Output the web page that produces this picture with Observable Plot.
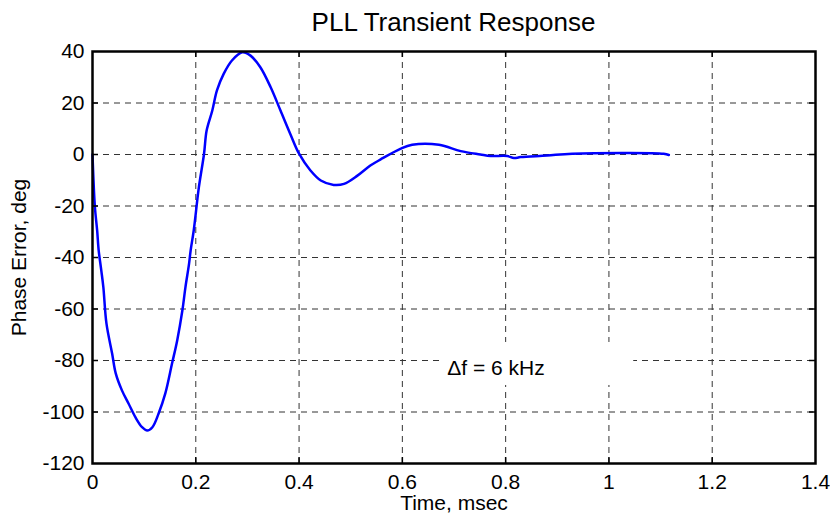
<!DOCTYPE html>
<html>
<head>
<meta charset="utf-8">
<script src="https://cdn.jsdelivr.net/npm/d3@7"></script>
<script src="https://cdn.jsdelivr.net/npm/@observablehq/plot@0.6"></script>
<style>
  html, body { margin: 0; padding: 0; background: #fff; }
  #wrap { width: 830px; height: 518px; background: #fff; font-family: "Liberation Sans", Arial, sans-serif; }
  #title { height: 40px; width: 830px; box-sizing: border-box; padding-left: 92px; padding-right: 15px; text-align: center; font-size: 26px; line-height: 44px; color: #000; white-space: nowrap; }
</style>
</head>
<body>
<div id="wrap">
  <div id="title">PLL Transient Response</div>
  <div id="chart"></div>
</div>
<script>
// Time (msec) and phase error (deg)
const timeMs = [0, 0.0045, 0.009, 0.012, 0.017, 0.021, 0.027, 0.038, 0.045, 0.057, 0.07, 0.083, 0.096, 0.106, 0.116, 0.128, 0.141, 0.154, 0.164, 0.174, 0.18, 0.187, 0.19, 0.196, 0.206, 0.216, 0.221, 0.232, 0.241, 0.254, 0.27, 0.29, 0.306, 0.325, 0.345, 0.364, 0.383, 0.4, 0.422, 0.442, 0.467, 0.487, 0.513, 0.538, 0.558, 0.596, 0.619, 0.671, 0.713, 0.751, 0.771, 0.803, 0.816, 0.829, 0.88, 0.929, 1.106, 1.116];
const phaseErrDeg = [0, -20, -29.5, -37.3, -45, -51.5, -65.6, -77.3, -85, -91.6, -96.8, -102, -105.9, -107.2, -105.9, -100.6, -92.8, -81.2, -72.2, -60.6, -51.5, -42.4, -37.3, -29.5, -12.7, 0.3, 9.3, 17.1, 24.9, 31.3, 36.5, 39.7, 38.4, 33.9, 26.1, 17.1, 8.0, 0.3, -6.2, -10.1, -11.8, -11.4, -8.2, -4.3, -1.9, 2.2, 3.8, 3.8, 1.3, 0, -0.6, -0.6, -1.4, -1.0, -0.4, 0.3, 0.3, -0.2];

const xTicks = [0, 0.2, 0.4, 0.6, 0.8, 1, 1.2, 1.4];
const yTicks = [-120, -100, -80, -60, -40, -20, 0, 20, 40];
const xDomain = [0, 1.4];
const yDomain = [-120, 40];

const xLabel = "Time, msec";
const yLabel = "Phase Error, deg";
const annotation = [{t: 0.687, v: -83, text: "\u0394f = 6 kHz"}];
// white background box of the annotation (covers the grid there)
const annotationBox = [{t1: 0.674, t2: 1.048, v1: -89.7, v2: -73}];

const series = timeMs.map((t, i) => ({t, v: phaseErrDeg[i]}));
const xInner = xTicks.slice(1, -1);
const yInner = yTicks.slice(1, -1);

const W = 830, H = 478;
const mT = 11, mB = 55, mL = 92, mR = 15;
const tickPx = 6;
const xPerPx = (xDomain[1] - xDomain[0]) / (W - mL - mR);
const yPerPx = (yDomain[1] - yDomain[0]) / (H - mT - mB);

const FS = 21;
const gridStyle = {stroke: "#333", strokeWidth: 1, strokeDasharray: "6,5"};

const chart = Plot.plot({
  width: W,
  height: H,
  marginTop: mT,
  marginBottom: mB,
  marginLeft: mL,
  marginRight: mR,
  style: {fontFamily: "Liberation Sans, Arial, sans-serif", fontSize: FS + "px", color: "#000", background: "#fff", overflow: "visible"},
  x: {domain: xDomain},
  y: {domain: yDomain},
  marks: [
    Plot.ruleX(xInner, {x: d => d, ...gridStyle}),
    Plot.ruleY(yInner, {y: d => d, ...gridStyle}),
    Plot.rect(annotationBox, {x1: "t1", x2: "t2", y1: "v1", y2: "v2", fill: "#fff"}),
    Plot.line(series, {x: "t", y: "v", stroke: "#0000ff", strokeWidth: 2.5, curve: "catmull-rom"}),
    Plot.text(annotation, {x: "t", y: "v", text: "text", textAnchor: "start", fontSize: FS, fill: "#000"}),
    // inward ticks on all four sides
    Plot.ruleX(xInner, {x: d => d, y1: yDomain[0], y2: yDomain[0] + tickPx * yPerPx, stroke: "#000", strokeWidth: 1.5}),
    Plot.ruleX(xInner, {x: d => d, y1: yDomain[1], y2: yDomain[1] - tickPx * yPerPx, stroke: "#000", strokeWidth: 1.5}),
    Plot.ruleY(yInner, {y: d => d, x1: xDomain[0], x2: xDomain[0] + tickPx * xPerPx, stroke: "#000", strokeWidth: 1.5}),
    Plot.ruleY(yInner, {y: d => d, x1: xDomain[1], x2: xDomain[1] - tickPx * xPerPx, stroke: "#000", strokeWidth: 1.5}),
    Plot.frame({stroke: "#000", strokeWidth: 2.5}),
    Plot.axisX(xTicks, {anchor: "bottom", tickSize: 0, tickPadding: 11, tickFormat: d => String(d), fontSize: FS, label: null}),
    Plot.axisY(yTicks, {anchor: "left", tickSize: 0, tickPadding: 8, tickFormat: d => String(d), fontSize: FS, label: null}),
    Plot.text([xLabel], {frameAnchor: "bottom", dy: 46, text: d => d, fontSize: FS, fill: "#000", textAnchor: "middle"}),
    Plot.text([yLabel], {frameAnchor: "left", dx: -73, rotate: -90, text: d => d, fontSize: FS, fill: "#000", textAnchor: "middle"})
  ]
});
document.getElementById("chart").appendChild(chart);
</script>
</body>
</html>
